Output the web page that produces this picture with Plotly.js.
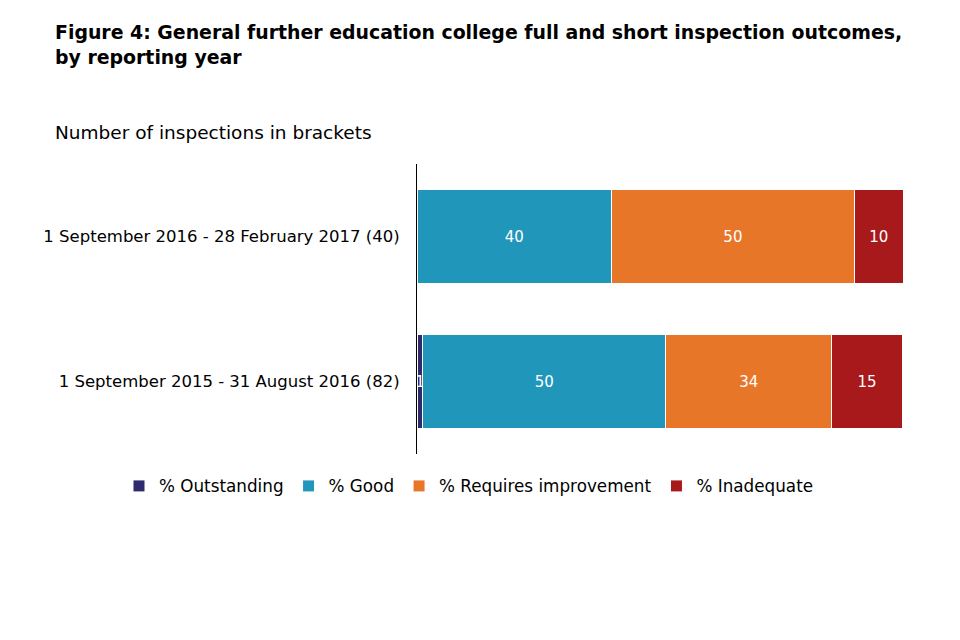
<!DOCTYPE html>
<html>
<head>
<meta charset="utf-8">
<script src="https://cdn.plot.ly/plotly-3.0.1.min.js"></script>
<style>html,body{margin:0;padding:0;background:#fff;}#chart{width:960px;height:640px;}</style>
</head>
<body>
<div id="chart"></div>
<script>
const categories = ['1 September 2015 - 31 August 2016 (82)', '1 September 2016 - 28 February 2017 (40)'];
const seriesNames = ['% Outstanding', '% Good', '% Requires improvement', '% Inadequate'];
const outstanding = [1.2, 0];
const good = [50, 40];
const requiresImprovement = [34.1, 50];
const inadequate = [14.6, 10];
const colors = ['#2e2a6c', '#2196bb', '#e87629', '#a8191c'];

const FONT = "'DejaVu Sans', sans-serif";
const allSeries = [outstanding, good, requiresImprovement, inadequate];

const traces = allSeries.map((vals, i) => ({
  type: 'bar',
  orientation: 'h',
  name: seriesNames[i],
  y: categories,
  x: vals,
  text: vals.map(v => v > 0 ? String(Math.round(v)) : ''),
  textposition: 'inside',
  insidetextanchor: 'middle',
  textangle: 0,
  constraintext: 'none',
  cliponaxis: false,
  textfont: {color: '#ffffff', size: 15, family: FONT},
  marker: {color: colors[i], line: {color: '#ffffff', width: 1}},
  hoverinfo: 'skip'
}));

const layout = {
  width: 960, height: 640,
  paper_bgcolor: '#ffffff', plot_bgcolor: '#ffffff',
  barmode: 'stack',
  bargap: 0.345,
  uniformtext: {mode: 'show', minsize: 15},
  margin: {l: 417, r: 57, t: 164, b: 186},
  font: {family: FONT, color: '#000000', size: 16},
  title: {
    text: '<b>Figure 4: General further education college full and short inspection outcomes,<br>by reporting year</b>',
    x: 55/960, xanchor: 'left', xref: 'container',
    y: 1 - 39/640, yanchor: 'top', yref: 'container',
    font: {size: 18.9, family: FONT, color: '#000000'}
  },
  xaxis: {range: [0, 100], visible: false, fixedrange: true},
  yaxis: {
    showline: true, linecolor: '#000000', linewidth: 1,
    ticks: '', showgrid: false, zeroline: false,
    tickfont: {size: 16.5, family: FONT, color: '#000000'},
    ticklabelstandoff: 13
  },
  showlegend: true,
  legend: {
    orientation: 'h',
    xref: 'paper', yref: 'paper',
    x: (119 - 417)/486, xanchor: 'left',
    y: (455 - 487)/290, yanchor: 'middle',
    font: {size: 16.8, family: FONT, color: '#000000'},
    traceorder: 'normal',
    itemwidth: 30,
    tracegroupgap: 0
  },
  annotations: [{
    text: 'Number of inspections in brackets',
    xref: 'paper', yref: 'paper',
    x: (53 - 417)/486, xanchor: 'left',
    y: 1 + (164 - 132)/290, yanchor: 'middle',
    showarrow: false,
    font: {size: 18.5, family: FONT, color: '#000000'}
  }]
};

Plotly.newPlot('chart', traces, layout, {displayModeBar: false, staticPlot: true});
</script>
</body>
</html>
